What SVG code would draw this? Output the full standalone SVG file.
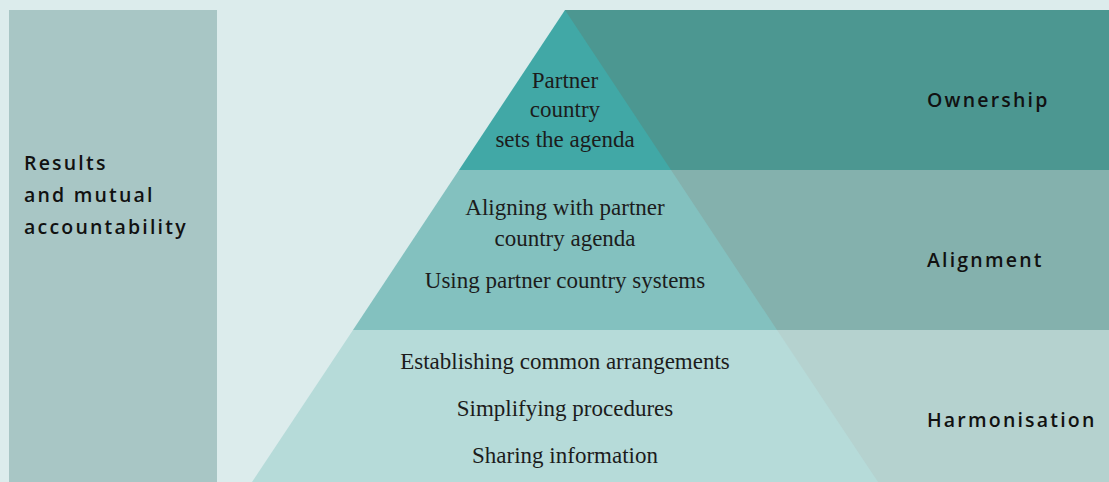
<svg xmlns="http://www.w3.org/2000/svg" width="1109" height="482" viewBox="0 0 1109 482">
<style>
.py{font-family:"Liberation Serif","DejaVu Serif",serif;font-size:23px;fill:#1c1c1c;text-anchor:middle}
.lb{font-family:"Open Sans",Lato,"Liberation Sans",sans-serif;font-size:19.5px;font-weight:600;fill:#111;letter-spacing:2.2px}
</style>
<rect width="1109" height="482" fill="#dcecec"/>
<g id="results">
<rect x="9" y="10" width="208" height="472" fill="#a8c6c5"/>
<text class="lb" x="24" y="170">Results</text>
<text class="lb" x="24" y="202">and mutual</text>
<text class="lb" x="24" y="234">accountability</text>
</g>
<g id="ownership">
<rect x="565" y="10" width="544" height="160" fill="#4c9791"/>
<text class="lb" x="927" y="107">Ownership</text>
</g>
<g id="alignment">
<rect x="668" y="170" width="441" height="160" fill="#84b1ad"/>
<text class="lb" x="927" y="267">Alignment</text>
</g>
<g id="harmonisation">
<rect x="774" y="330" width="335" height="152" fill="#b5d2cf"/>
<text class="lb" x="927" y="427">Harmonisation</text>
</g>
<g id="pyramid-top">
<polygon points="565,10 671,170 459,170" fill="#41a8a6"/>
<text class="py" x="565" y="88">Partner</text>
<text class="py" x="565" y="117">country</text>
<text class="py" x="565" y="147">sets the agenda</text>
</g>
<g id="pyramid-middle">
<polygon points="459,170 671,170 777,330 353,330" fill="#83c1bf"/>
<text class="py" x="565" y="215">Aligning with partner</text>
<text class="py" x="565" y="246">country agenda</text>
<text class="py" x="565" y="288">Using partner country systems</text>
</g>
<g id="pyramid-bottom">
<polygon points="353,330 777,330 878,482 252,482" fill="#b6dbd9"/>
<text class="py" x="565" y="369">Establishing common arrangements</text>
<text class="py" x="565" y="416">Simplifying procedures</text>
<text class="py" x="565" y="463">Sharing information</text>
</g>
<g id="connectors"/>
</svg>
